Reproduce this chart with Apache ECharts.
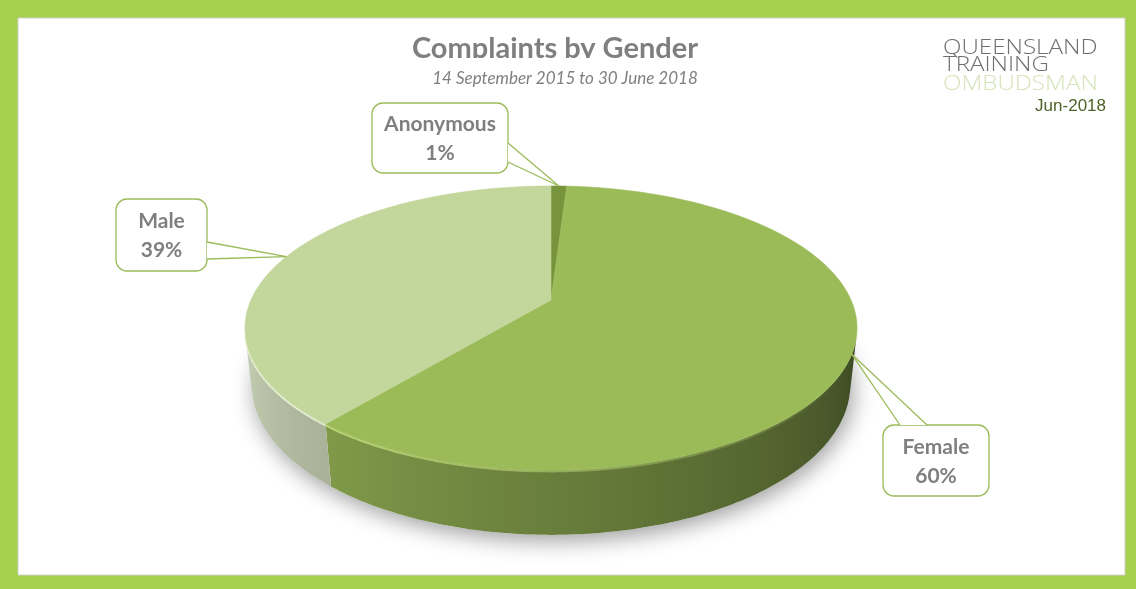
<!DOCTYPE html>
<html><head><meta charset="utf-8">
<script src="https://cdn.jsdelivr.net/npm/echarts@6/dist/echarts.min.js"></script>
<style>html,body{margin:0;padding:0;background:#a5d14e}#c{width:1136px;height:589px}</style>
</head><body><div id="c"></div>
<script>
// ---- data ----
const categories = ['Anonymous', 'Female', 'Male'];
const values = [1, 60, 39];
const titleText = 'Complaints by Gender';
const subtitleText = '14 September 2015 to 30 June 2018';
const logoLines = ['QUEENSLAND', 'TRAINING', 'OMBUDSMAN'];
const dateText = 'Jun-2018';

// ---- styles / layout ----
const topColors = { Anonymous: '#77933c', Female: '#9bbb59', Male: '#c3d69b' };
const sideBase = { Anonymous: [119, 147, 60], Female: [155, 187, 89], Male: [206, 216, 186] };
const callouts = {
  Anonymous: { x: 372, y: 103, w: 136, h: 70, t1: [508, 143], t2: [508, 162] },
  Male: { x: 116, y: 199, w: 91, h: 72, t1: [207, 242], t2: [207, 259] },
  Female: { x: 883, y: 425, w: 106, h: 71, t1: [900, 425], t2: [927, 425] }
};
const VIEW = { cx: 551, cy: 300, f: 1356, D: 4.52, s: 0.455, h: 0.214 };
VIEW.c = Math.sqrt(1 - VIEW.s * VIEW.s);

const total = values.reduce((a, b) => a + b, 0);
const starts = [], ends = [];
let acc = 0;
values.forEach(v => { starts.push(acc / total * 360); acc += v; ends.push(acc / total * 360); });

function proj(deg, r, z) {
  const t = deg * Math.PI / 180;
  const X = r * Math.sin(t), Y = r * Math.cos(t);
  const yc = Y * VIEW.s + z * VIEW.c;
  const zc = VIEW.D + Y * VIEW.c - z * VIEW.s;
  return [VIEW.cx + VIEW.f * X / zc, VIEW.cy - VIEW.f * yc / zc];
}
const visLo = Math.acos(-1 / (VIEW.D * VIEW.c)) * 180 / Math.PI; // ~104
const visHi = 360 - visLo;
function bright(deg) {
  const t = Math.max(0, Math.min(1, (deg - visLo) / (visHi - visLo)));
  return 0.4 + 0.55 * t;
}
function rgb(a) { return 'rgb(' + a.map(v => Math.max(0, Math.min(255, Math.round(v)))).join(',') + ')'; }

function shadowItem(params, api) {
  const pts = [];
  for (let d = 0; d <= 360; d += 2) pts.push(proj(d, 1, -VIEW.h));
  return { type: 'polygon', shape: { points: pts },
    style: { fill: '#ffffff', shadowBlur: 22, shadowColor: 'rgba(0,0,0,0.38)', shadowOffsetX: 3, shadowOffsetY: 6 } };
}

function rimItem(params, api) {
  const i = params.dataIndex, name = categories[i];
  const lo = Math.max(starts[i], visLo), hi = Math.min(ends[i], visHi);
  const children = [];
  if (hi > lo) {
    const n = Math.max(2, Math.ceil(hi - lo));
    const topPts = [], botPts = [];
    for (let k = 0; k <= n; k++) {
      const a = lo + (hi - lo) * k / n;
      topPts.push(proj(a, 1, 0));
      botPts.push(proj(a, 1, -VIEW.h));
    }
    const pts = topPts.concat(botPts.reverse());
    const xs = pts.map(p => p[0]);
    const xmin = Math.min(...xs), xmax = Math.max(...xs);
    const stops = [];
    const m = 12;
    for (let k = 0; k <= m; k++) {
      const a = lo + (hi - lo) * k / m;
      const x = proj(a, 1, -VIEW.h / 2)[0];
      stops.push({ offset: Math.max(0, Math.min(1, (x - xmin) / (xmax - xmin || 1))), color: rgb(sideBase[name].map(v => v * bright(a))) });
    }
    stops.sort((p, q) => p.offset - q.offset);
    const grad = new echarts.graphic.LinearGradient(xmin, 0, xmax, 0, stops, true);
    children.push({ type: 'polygon', shape: { points: pts }, style: { fill: grad } });
    // bevel highlight
    for (let k = 0; k < n; k++) {
      const a = lo + (hi - lo) * k / n, b = lo + (hi - lo) * (k + 1) / n, md = (a + b) / 2;
      const t = Math.max(0, Math.min(1, (md - 120) / 110));
      const p1 = proj(a, 1, 0), p2 = proj(b, 1, 0);
      const hl = name === 'Male' ? '235,245,215' : '200,228,130';
      children.push({ type: 'line', shape: { x1: p1[0], y1: p1[1] + 1.2, x2: p2[0], y2: p2[1] + 1.2 },
        style: { stroke: 'rgba(' + hl + ',' + (0.9 * t).toFixed(3) + ')', lineWidth: 2.4 } });
    }
  }
  return { type: 'group', children };
}

function topItem(params, api) {
  const i = params.dataIndex, name = categories[i];
  const pts = [[VIEW.cx, VIEW.cy]];
  const n = Math.max(2, Math.ceil(ends[i] - starts[i]));
  for (let k = 0; k <= n; k++) pts.push(proj(starts[i] + (ends[i] - starts[i]) * k / n, 1, 0));
  return { type: 'polygon', shape: { points: pts },
    style: { fill: topColors[name], stroke: topColors[name], lineWidth: 0.6 } };
}

function labelItem(params, api) {
  const i = params.dataIndex, name = categories[i];
  const b = callouts[name];
  const mid = (starts[i] + ends[i]) / 2;
  const anc = proj(mid, 1, 0);
  const pct = Math.round(values[i] / total * 100) + '%';
  const green = '#9bbb59';
  return { type: 'group', children: [
    { type: 'rect', shape: { x: b.x, y: b.y, width: b.w, height: b.h, r: 11 }, style: { fill: '#fff', stroke: green, lineWidth: 1.3 } },
    { type: 'polygon', shape: { points: [b.t1, anc, b.t2] }, style: { fill: '#fff' } },
    { type: 'line', shape: { x1: b.t1[0], y1: b.t1[1], x2: anc[0], y2: anc[1] }, style: { stroke: green, lineWidth: 1.3 } },
    { type: 'line', shape: { x1: b.t2[0], y1: b.t2[1], x2: anc[0], y2: anc[1] }, style: { stroke: green, lineWidth: 1.3 } },
    { type: 'text', x: b.x + b.w / 2, y: b.y + b.h / 2 + 1, style: { text: name + '\n' + pct, align: 'center', verticalAlign: 'middle',
      font: 'bold 21px Lato', lineHeight: 29, fill: '#7f7f7f' } }
  ] };
}

const seriesData = categories.map((c, i) => ({ name: c, value: values[i] }));
const chart = echarts.init(document.getElementById('c'));
chart.setOption({
  animation: false,
  backgroundColor: '#a5d14e',
  graphic: [
    { type: 'rect', z: -10, shape: { x: 18, y: 18, width: 1107, height: 557 }, style: { fill: '#ffffff', stroke: '#cfcfcf', lineWidth: 1 } },
    { type: 'text', z: 1, z2: 1, x: 555, y: 49, style: { text: titleText, font: 'bold 29px Lato', fill: '#7f7f7f', align: 'center', verticalAlign: 'middle' } },
    { type: 'rect', z: 5, z2: 5, shape: { x: 400, y: 58, width: 320, height: 8 }, style: { fill: '#ffffff' } },
    { type: 'text', z: 6, x: 565, y: 79, style: { text: subtitleText, font: 'italic 17px Lato', fill: '#7f7f7f', align: 'center', verticalAlign: 'middle' } },
    { type: 'text', z: 6, x: 943, y: 48, scaleX: 1.15, style: { text: logoLines[0], font: '300 21px "Open Sans"', fill: '#6f6f6f', align: 'left', verticalAlign: 'middle' } },
    { type: 'text', z: 6, x: 943, y: 65.5, scaleX: 1.15, style: { text: logoLines[1], font: '300 21px "Open Sans"', fill: '#6f6f6f', align: 'left', verticalAlign: 'middle' } },
    { type: 'text', z: 6, x: 943, y: 84, scaleX: 1.15, style: { text: logoLines[2], font: '300 21px "Open Sans"', fill: '#d6e4bb', align: 'left', verticalAlign: 'middle' } },
    { type: 'text', z: 6, x: 1106, y: 106, style: { text: dateText, font: '17px "Liberation Sans"', fill: '#4f6228', align: 'right', verticalAlign: 'middle' } }
  ],
  series: [
    { type: 'custom', coordinateSystem: 'none', z: 1, data: [0], renderItem: shadowItem, silent: true },
    { type: 'custom', coordinateSystem: 'none', z: 2, data: seriesData, renderItem: rimItem },
    { type: 'custom', coordinateSystem: 'none', z: 3, data: seriesData, renderItem: topItem },
    { type: 'custom', coordinateSystem: 'none', z: 4, data: seriesData, renderItem: labelItem }
  ]
});
</script></body></html>
